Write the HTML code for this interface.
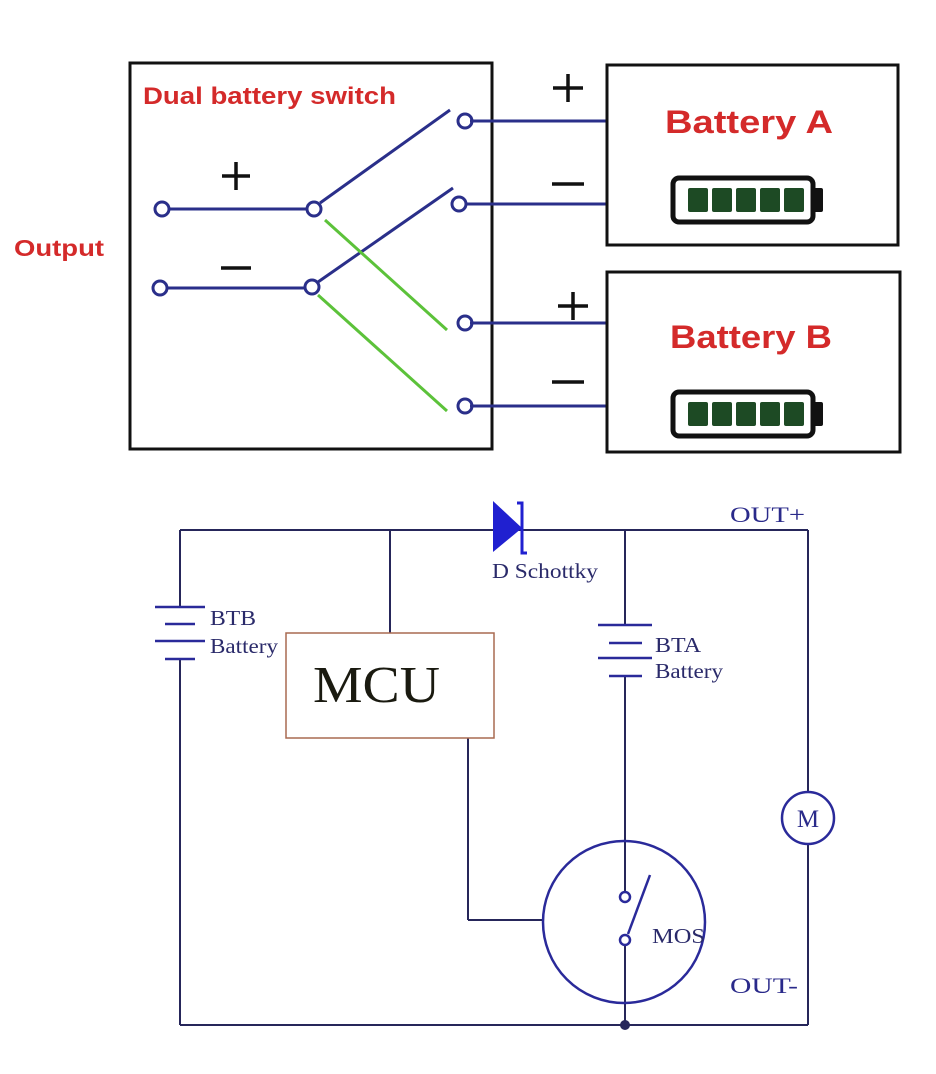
<!DOCTYPE html>
<html><head><style>
html,body{margin:0;padding:0;background:#fff}
svg{display:block}
.s{font-family:"Liberation Serif",serif}
.a{font-family:"Liberation Sans",sans-serif;font-weight:bold}
</style></head><body>
<svg width="936" height="1074" viewBox="0 0 936 1074" xmlns="http://www.w3.org/2000/svg">
<rect width="936" height="1074" fill="#fff"/>
<rect x="130" y="63" width="362" height="386" fill="none" stroke="#111" stroke-width="3"/>
<text x="143" y="104" class="a" font-size="24" fill="#d42a2a" textLength="253" lengthAdjust="spacingAndGlyphs">Dual battery switch</text>
<text x="14" y="256" class="a" font-size="23" fill="#d42a2a" textLength="90" lengthAdjust="spacingAndGlyphs">Output</text>
<g stroke="#2a2f8a" stroke-width="3" fill="none">
<line x1="169" y1="209" x2="307" y2="209"/>
<line x1="167" y1="288" x2="305" y2="288"/>
<line x1="320" y1="203" x2="450" y2="110"/>
<line x1="318" y1="282" x2="453" y2="188"/>
<line x1="470" y1="121" x2="607" y2="121"/>
<line x1="465" y1="204" x2="607" y2="204"/>
<line x1="470" y1="323" x2="607" y2="323"/>
<line x1="470" y1="406" x2="607" y2="406"/>
<circle cx="162" cy="209" r="7"/>
<circle cx="160" cy="288" r="7"/>
<circle cx="314" cy="209" r="7"/>
<circle cx="312" cy="287" r="7"/>
<circle cx="465" cy="121" r="7"/>
<circle cx="459" cy="204" r="7"/>
<circle cx="465" cy="323" r="7"/>
<circle cx="465" cy="406" r="7"/>
</g>
<g stroke="#5cc23a" stroke-width="3">
<line x1="325" y1="220" x2="447" y2="330"/>
<line x1="318" y1="295" x2="447" y2="411"/>
</g>
<g stroke="#111" stroke-width="3.5">
<line x1="222" y1="176" x2="250" y2="176"/><line x1="236" y1="162" x2="236" y2="190"/>
<line x1="221" y1="268" x2="251" y2="268"/>
<line x1="553" y1="88" x2="583" y2="88"/><line x1="568" y1="74" x2="568" y2="102"/>
<line x1="552" y1="184" x2="584" y2="184"/>
<line x1="558" y1="306" x2="588" y2="306"/><line x1="573" y1="292" x2="573" y2="320"/>
<line x1="552" y1="382" x2="584" y2="382"/>
</g>
<rect x="607" y="65" width="291" height="180" fill="none" stroke="#111" stroke-width="3"/>
<rect x="607" y="272" width="293" height="180" fill="none" stroke="#111" stroke-width="3"/>
<text x="665" y="133" class="a" font-size="32" fill="#d42a2a" textLength="168" lengthAdjust="spacingAndGlyphs">Battery A</text>
<text x="670" y="348" class="a" font-size="32" fill="#d42a2a" textLength="162" lengthAdjust="spacingAndGlyphs">Battery B</text>
<g id="bat">
<rect x="673" y="178" width="140" height="44" rx="6" fill="none" stroke="#111" stroke-width="5"/>
<rect x="813" y="188" width="10" height="24" rx="2" fill="#111"/>
<rect x="688" y="188" width="20" height="24" rx="2" fill="#1d4a24"/>
<rect x="712" y="188" width="20" height="24" rx="2" fill="#1d4a24"/>
<rect x="736" y="188" width="20" height="24" rx="2" fill="#1d4a24"/>
<rect x="760" y="188" width="20" height="24" rx="2" fill="#1d4a24"/>
<rect x="784" y="188" width="20" height="24" rx="2" fill="#1d4a24"/>
</g>
<use href="#bat" transform="translate(0,214)"/>
<g stroke="#26265a" stroke-width="2" fill="none">
<line x1="180" y1="530" x2="808" y2="530"/>
<line x1="180" y1="530" x2="180" y2="607"/>
<line x1="180" y1="659" x2="180" y2="1025"/>
<line x1="180" y1="1025" x2="808" y2="1025"/>
<line x1="808" y1="530" x2="808" y2="792"/>
<line x1="808" y1="844" x2="808" y2="1025"/>
<line x1="390" y1="530" x2="390" y2="633"/>
<line x1="468" y1="738" x2="468" y2="920"/>
<line x1="468" y1="920" x2="543" y2="920"/>
<line x1="625" y1="530" x2="625" y2="625"/>
<line x1="625" y1="676" x2="625" y2="892"/>
<line x1="625" y1="945" x2="625" y2="1025"/>
</g>
<g stroke="#2a2a9a" stroke-width="2.5">
<line x1="155" y1="607" x2="205" y2="607"/>
<line x1="165" y1="624" x2="195" y2="624"/>
<line x1="155" y1="641" x2="205" y2="641"/>
<line x1="165" y1="659" x2="195" y2="659"/>
<line x1="598" y1="625" x2="652" y2="625"/>
<line x1="609" y1="643" x2="642" y2="643"/>
<line x1="598" y1="658" x2="652" y2="658"/>
<line x1="609" y1="676" x2="642" y2="676"/>
</g>
<rect x="286" y="633" width="208" height="105" fill="none" stroke="#a86a50" stroke-width="1.5"/>
<text x="313" y="702" class="s" font-size="52" fill="#1a1a10" textLength="127" lengthAdjust="spacingAndGlyphs">MCU</text>
<text x="210" y="625" class="s" font-size="21" fill="#2a2a6a" textLength="46" lengthAdjust="spacingAndGlyphs">BTB</text>
<text x="210" y="653" class="s" font-size="21" fill="#2a2a6a" textLength="68" lengthAdjust="spacingAndGlyphs">Battery</text>
<text x="655" y="652" class="s" font-size="21" fill="#2a2a6a" textLength="46" lengthAdjust="spacingAndGlyphs">BTA</text>
<text x="655" y="678" class="s" font-size="21" fill="#2a2a6a" textLength="68" lengthAdjust="spacingAndGlyphs">Battery</text>
<polygon points="493,501 493,552 522,528" fill="#2020d0"/>
<path d="M517,503 L522,503 L522,553 L527,553" stroke="#2020d0" stroke-width="3" fill="none"/>
<text x="492" y="578" class="s" font-size="21" fill="#2a2a6a" textLength="106" lengthAdjust="spacingAndGlyphs">D Schottky</text>
<text x="730" y="522" class="s" font-size="22" fill="#2a2a8a" textLength="75" lengthAdjust="spacingAndGlyphs">OUT+</text>
<text x="730" y="993" class="s" font-size="22" fill="#2a2a8a" textLength="68" lengthAdjust="spacingAndGlyphs">OUT-</text>
<circle cx="808" cy="818" r="26" fill="#fff" stroke="#2a2a9a" stroke-width="2.5"/>
<text x="808" y="827" text-anchor="middle" class="s" font-size="25" fill="#2a2a8a">M</text>
<circle cx="624" cy="922" r="81" fill="none" stroke="#2a2a9a" stroke-width="2.5"/>
<g stroke="#2a2a9a" stroke-width="2.5" fill="#fff">
<circle cx="625" cy="897" r="5"/>
<circle cx="625" cy="940" r="5"/>
<line x1="628" y1="934" x2="650" y2="875"/>
</g>
<text x="652" y="943" class="s" font-size="21" fill="#2a2a6a" textLength="53" lengthAdjust="spacingAndGlyphs">MOS</text>
<circle cx="625" cy="1025" r="5" fill="#26265a"/>
</svg>
</body></html>
